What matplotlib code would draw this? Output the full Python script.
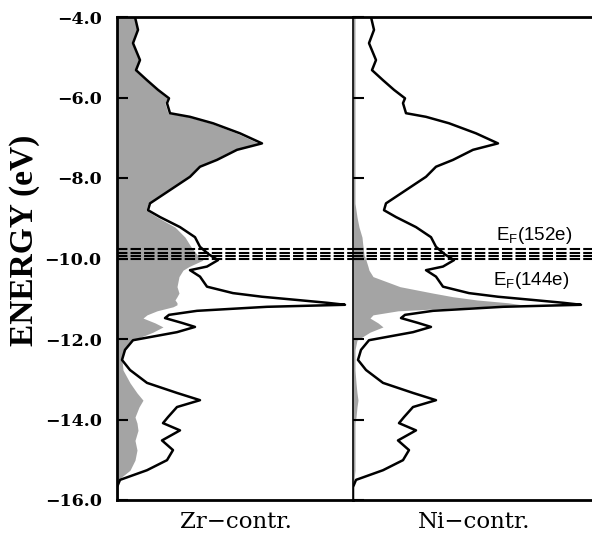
import matplotlib.pyplot as plt
import numpy as np

plt.rcParams['mathtext.fontset'] = 'custom'
plt.rcParams['mathtext.rm'] = 'Liberation Sans'

# energy grid (eV) and DOS curves (arbitrary units)
energy = [-4.0, -4.32, -4.65, -5.07, -5.32, -5.57, -5.81, -6.02, -6.14, -6.39,
          -6.48, -6.64, -6.89, -7.14, -7.3, -7.55, -7.72, -7.97, -8.3, -8.63,
          -8.8, -8.97, -9.22, -9.47, -9.71, -9.9, -10.04, -10.2, -10.29, -10.45,
          -10.7, -10.86, -10.95, -11.03, -11.1, -11.15, -11.2, -11.3, -11.4, -11.48,
          -11.6, -11.7, -11.83, -12.03, -12.27, -12.52, -12.77, -13.09, -13.34, -13.52,
          -13.69, -13.94, -14.09, -14.27, -14.52, -14.76, -15.01, -15.26, -15.5, -15.68,
          -16.0]
total = [18, 21, 16, 23, 19, 30, 41, 52, 50, 53,
         73, 96, 123, 145, 120, 100, 83, 73, 53, 33,
         31, 43, 63, 78, 83, 92, 101, 90, 73, 83,
         90, 116, 145, 180, 210, 228, 150, 80, 52, 48,
         65, 78, 60, 16, 8, 5, 13, 30, 60, 83,
         60, 51, 46, 63, 45, 56, 50, 30, 3, 0,
         0]
zr = [17, 20, 15, 22, 18, 29, 40, 50, 48, 51,
      71, 94, 120, 142, 118, 98, 81, 71, 51, 31,
      29, 40, 58, 68, 74, 80, 86, 72, 66, 62,
      60, 62, 60, 58, 60, 60, 56, 40, 30, 26,
      38, 46, 36, 16, 8, 5, 6, 13, 20, 26,
      22, 18, 20, 21, 18, 20, 18, 13, 1, 0,
      0]
ni = [2, 2, 2, 2, 2, 2, 2, 2, 2, 2,
      2, 2, 2, 2, 2, 2, 2, 2, 2, 2,
      3, 4, 6, 9, 10, 11, 13, 15, 16, 20,
      47, 80, 100, 124, 155, 169, 125, 45, 20, 17,
      25, 30, 17, 4, 2, 2, 2, 3, 4, 5,
      4, 3, 2, 2, 2, 2, 2, 2, 1, 0,
      0]
fermi = [-9.76, -9.86, -9.94, -10.01]
yticks = [-4.0, -6.0, -8.0, -10.0, -12.0, -14.0, -16.0]

fig = plt.figure(figsize=(5.92, 5.35), dpi=100)
ax1 = fig.add_axes([117/592, 35/535, 236/592, 483/535])
ax2 = fig.add_axes([353/592, 35/535, 239/592, 483/535])

gray = '#a4a4a4'
for ax, part, xmax in [(ax1, zr, 236), (ax2, ni, 239)]:
    ax.fill_betweenx(energy, 0, part, color=gray, lw=0)
    ax.plot(total, energy, color='black', lw=1.8, solid_joinstyle='round')
    for ef in fermi:
        ax.axhline(ef, color='black', lw=1.5, ls=(0, (5, 1.5)))
    ax.set_xlim(0, xmax)
    ax.set_ylim(-16, -4)
    ax.set_xticks([])
    ax.set_yticks(yticks)
    ax.tick_params(axis='y', direction='in', length=8, width=1.5)

ax1.set_yticklabels(['\u22124.0', '\u22126.0', '\u22128.0', '\u221210.0',
                     '\u221212.0', '\u221214.0', '\u221216.0'],
                    fontfamily='DejaVu Serif', fontweight='bold', fontsize=12.5)
ax1.tick_params(axis='y', pad=11)
ax2.set_yticklabels([])

for s in ['left', 'top', 'bottom']:
    ax1.spines[s].set_linewidth(2.0)
ax1.spines['right'].set_visible(False)
for s in ['top', 'bottom']:
    ax2.spines[s].set_linewidth(2.0)
ax2.spines['left'].set_linewidth(1.2)
ax2.spines['right'].set_visible(False)

ax2.text(143, -9.55, r'E$_\mathrm{F}$(152e)', fontfamily='Liberation Sans', fontsize=13.5)
ax2.text(140, -10.65, r'E$_\mathrm{F}$(144e)', fontfamily='Liberation Sans', fontsize=13.5)

fig.text(25/592, 1 - 240/535, 'ENERGY (eV)', rotation=90, ha='center', va='center',
         fontfamily='Liberation Serif', fontweight='bold', fontsize=24)
fig.text(236/592, 1 - 522/535, 'Zr\u2212contr.', ha='center', va='center',
         fontfamily='DejaVu Serif', fontsize=16.5)
fig.text(474/592, 1 - 522/535, 'Ni\u2212contr.', ha='center', va='center',
         fontfamily='DejaVu Serif', fontsize=16.5)

fig.savefig('out.png', dpi=100)
